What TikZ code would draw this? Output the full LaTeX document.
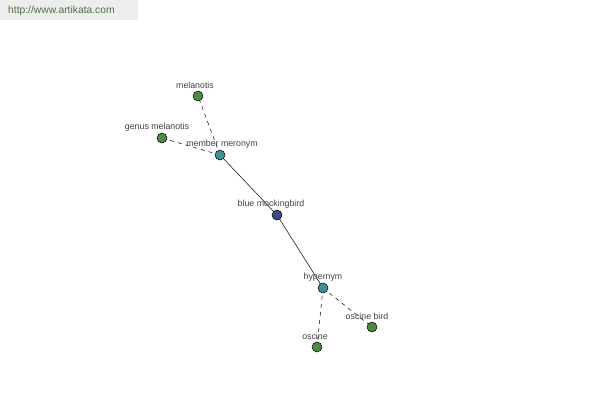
\documentclass[tikz,border=0pt]{standalone}
\usepackage{fontspec}
\setmainfont{Liberation Sans}
\definecolor{leafc}{RGB}{78,138,66}
\definecolor{relc}{RGB}{62,145,148}
\definecolor{corec}{RGB}{62,72,135}
\definecolor{urlc}{RGB}{80,110,70}
\begin{document}
\begin{tikzpicture}[x=1pt,y=-1pt,
  dot/.style={circle,draw=black,line width=0.5pt,minimum size=10pt,inner sep=0pt},
  leaf/.style={dot,fill=leafc},
  rel/.style={dot,fill=relc},
  core/.style={dot,fill=corec},
  lbl/.style={font=\fontsize{8.8}{10}\selectfont,text=black!75,inner sep=0pt},
  dash edge/.style={draw=black,line width=0.5pt,dash pattern=on 4pt off 4pt},
  solid edge/.style={draw=black,line width=0.5pt}]
\useasboundingbox (0,0) rectangle (600,400);
\fill[white] (0,0) rectangle (600,400);
\fill[black!7] (0,0) rectangle (138,20);
\node[font=\fontsize{10.3}{12}\selectfont,text=urlc,anchor=west,inner sep=0pt] (url) at (8,11) {http://www.artikata.com};
\coordinate (mel) at (198,96);
\coordinate (gmel) at (162,138);
\coordinate (mer) at (220,155);
\coordinate (blue) at (277,215);
\coordinate (hyp) at (323,288);
\coordinate (obird) at (372,327);
\coordinate (osc) at (317,347);
\path[dash edge] (mer) -- (mel);
\path[dash edge] (mer) -- (gmel);
\path[solid edge] (mer) -- (blue);
\path[solid edge] (blue) -- (hyp);
\path[dash edge] (hyp) -- (obird);
\path[dash edge] (hyp) -- (osc);
\node[leaf] (nmel) at (mel) {};
\node[leaf] (ngmel) at (gmel) {};
\node[rel] (nmer) at (mer) {};
\node[core] (nblue) at (blue) {};
\node[rel] (nhyp) at (hyp) {};
\node[leaf] (nobird) at (obird) {};
\node[leaf] (nosc) at (osc) {};
\node[lbl] (lmel) at (195,85) {melanotis};
\node[lbl] (lgmel) at (157,127) {genus melanotis};
\node[lbl] (lmer) at (222,144) {member meronym};
\node[lbl] (lblue) at (271,204) {blue mockingbird};
\node[lbl] (lhyp) at (323,277) {hypernym};
\node[lbl] (lobird) at (367,316) {oscine bird};
\node[lbl] (losc) at (315,336) {oscine};
\end{tikzpicture}
\end{document}
